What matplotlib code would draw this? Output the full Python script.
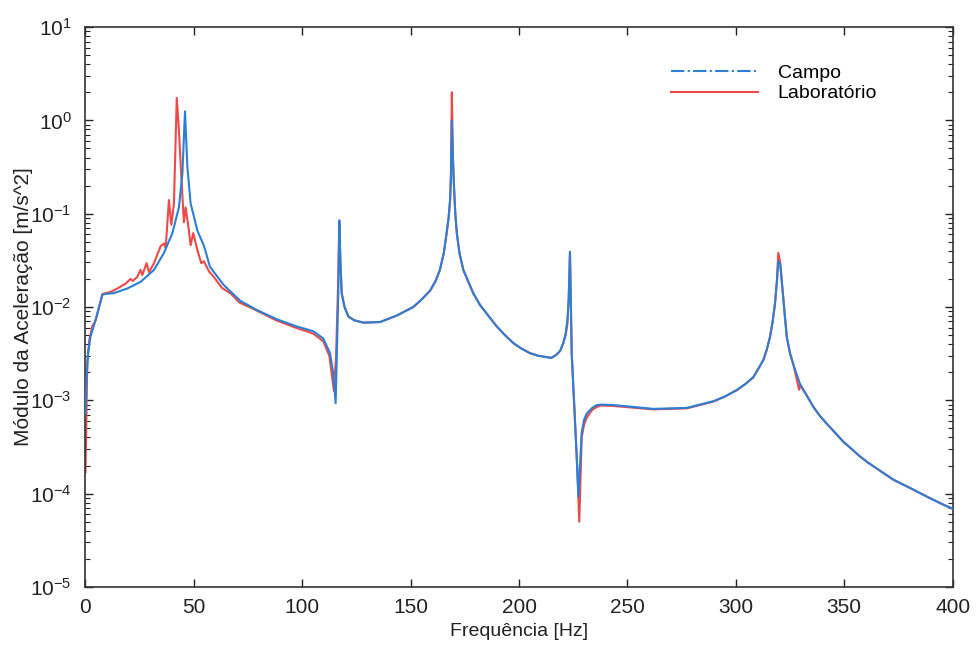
import numpy as np
import matplotlib
matplotlib.use("Agg")
import matplotlib.pyplot as plt
from matplotlib.ticker import LogLocator, FixedLocator, FuncFormatter, NullFormatter

plt.rcParams.update({
    "font.family": ["Liberation Sans", "DejaVu Sans"],
    "mathtext.fontset": "custom",
    "mathtext.rm": "Liberation Sans",
    "mathtext.it": "Liberation Sans",
    "font.size": 14,
})

# ── Campo (field measurement) ────────────────────────────────────────────────
campo_hz = [0.0, 0.5, 1.2, 2.3, 4.6, 7.8, 9.0, 13.1, 19.3, 25.4, 31.6, 36.2,
            40.1, 43.1, 44.7, 45.9, 47.0, 48.5, 51.6, 54.7, 57.4, 63.6, 71.3,
            79.0, 88.2, 97.4, 105.1, 109.7, 112.8, 114.3, 115.4, 116.6, 117.1,
            117.6, 118.2, 119.5, 121.3, 124.0, 128.2, 135.9, 143.6, 151.2,
            155.0, 159.0, 161.5, 163.5, 165.3, 166.6, 167.5, 168.2, 168.6,
            169.0, 169.5, 170.0, 170.6, 171.3, 172.5, 174.3, 176.5, 178.9,
            182.0, 185.1, 189.7, 193.5, 197.4, 201.0, 205.1, 209.0, 212.8,
            215.0, 217.4, 219.0, 220.4, 221.5, 222.3, 222.9, 223.5, 224.3,
            225.8, 226.6, 227.4, 228.9, 230.0, 231.2, 233.5, 235.8, 238.0,
            243.5, 262.0, 277.4, 289.7, 295.0, 300.4, 304.5, 308.1, 310.5,
            312.7, 314.3, 315.8, 317.0, 318.1, 319.0, 319.6, 320.5, 321.2,
            322.0, 323.5, 325.0, 326.6, 329.6, 332.5, 335.8, 338.8, 342.0,
            345.8, 349.6, 353.5, 357.3, 361.0, 365.0, 372.7, 380.4, 388.1,
            395.8, 400.0]
campo_val = [7.2e-4, 1.6e-3, 3.2e-3, 4.8e-3, 7.2e-3, 1.35e-2, 1.38e-2, 1.41e-2,
             1.58e-2, 1.86e-2, 2.5e-2, 3.8e-2, 6.2e-2, 1.17e-1, 2.7e-1, 1.25,
             3.2e-1, 1.29e-1, 6.6e-2, 4.5e-2, 2.7e-2, 1.74e-2, 1.17e-2, 9.3e-3,
             7.4e-3, 6.2e-3, 5.5e-3, 4.6e-3, 3.2e-3, 1.95e-3, 9.3e-4, 1.3e-2,
             8.5e-2, 3.0e-2, 1.4e-2, 1.0e-2, 7.9e-3, 7.2e-3, 6.8e-3, 6.9e-3,
             8.1e-3, 1.0e-2, 1.2e-2, 1.5e-2, 1.9e-2, 2.5e-2, 3.8e-2, 6.2e-2,
             9.0e-2, 1.4e-1, 2.5e-1, 1.0, 4.0e-1, 1.95e-1, 1.0e-1, 6.2e-2,
             3.8e-2, 2.5e-2, 1.9e-2, 1.4e-2, 1.05e-2, 8.5e-3, 6.2e-3, 5.0e-3,
             4.1e-3, 3.6e-3, 3.2e-3, 3.0e-3, 2.9e-3, 2.85e-3, 3.1e-3, 3.4e-3,
             4.1e-3, 5.2e-3, 7.2e-3, 1.2e-2, 3.9e-2, 3.2e-3, 6.2e-4, 2.5e-4,
             9.3e-5, 4.5e-4, 6.2e-4, 7.2e-4, 8.2e-4, 8.9e-4, 9.0e-4, 8.9e-4,
             8.1e-4, 8.3e-4, 9.8e-4, 1.1e-3, 1.29e-3, 1.5e-3, 1.78e-3, 2.2e-3,
             2.7e-3, 3.5e-3, 4.8e-3, 7.0e-3, 1.1e-2, 1.9e-2, 3.1e-2, 2.9e-2,
             1.9e-2, 1.17e-2, 4.8e-3, 3.2e-3, 2.4e-3, 1.5e-3, 1.15e-3, 8.5e-4,
             6.8e-4, 5.6e-4, 4.5e-4, 3.6e-4, 3.0e-4, 2.5e-4, 2.15e-4, 1.86e-4,
             1.41e-4, 1.15e-4, 9.3e-5, 7.6e-5, 6.9e-5]

# ── Laboratório (lab measurement) ────────────────────────────────────────────
lab_hz = [0.0, 0.4, 0.8, 1.8, 3.1, 4.7, 7.8, 11.6, 14.7, 18.5, 20.8, 21.8,
          23.9, 25.4, 26.2, 28.2, 29.3, 31.6, 34.7, 36.2, 37.0, 38.5, 39.6,
          40.8, 42.1, 43.1, 44.2, 45.4, 46.2, 47.7, 48.5, 49.7, 51.6, 53.4,
          54.6, 57.0, 59.2, 63.0, 66.9, 71.0, 78.4, 88.0, 97.0, 105.0, 109.7,
          112.5, 114.0, 114.6, 115.6, 116.6, 117.1, 117.6, 118.2, 119.5,
          121.3, 124.0, 128.2, 135.9, 143.6, 151.2, 155.0, 159.0, 161.5,
          163.5, 165.3, 166.6, 167.5, 168.2, 168.6, 169.0, 169.5, 170.0,
          170.6, 171.3, 172.5, 174.3, 176.5, 178.9, 182.0, 185.1, 189.7,
          193.5, 197.4, 201.0, 205.1, 209.0, 212.8, 215.0, 217.4, 219.0,
          220.4, 221.5, 222.3, 222.9, 223.5, 224.3, 225.8, 226.8, 227.8,
          228.9, 230.0, 231.2, 233.5, 235.8, 238.0, 243.5, 262.0, 277.4,
          289.7, 295.0, 300.4, 304.5, 308.1, 310.5, 312.7, 314.3, 315.8,
          317.0, 318.1, 319.0, 319.6, 320.5, 321.2, 322.0, 323.5, 325.0,
          326.6, 329.2, 329.8, 331.0, 332.5, 335.8, 338.8, 342.0, 345.8,
          349.6, 353.5, 357.3, 361.0, 365.0, 372.7, 380.4, 388.1, 395.8, 400.0]
lab_val = [1.7e-4, 6.0e-4, 2.5e-3, 4.5e-3, 6.2e-3, 7.2e-3, 1.38e-2, 1.45e-2,
           1.58e-2, 1.78e-2, 2.0e-2, 1.9e-2, 2.1e-2, 2.5e-2, 2.2e-2, 2.95e-2,
           2.35e-2, 2.95e-2, 4.5e-2, 4.8e-2, 4.3e-2, 1.4e-1, 7.6e-2, 1.29e-1,
           1.74, 7.9e-1, 2.5e-1, 8.1e-2, 1.17e-1, 6.6e-2, 4.6e-2, 6.2e-2,
           4.1e-2, 2.95e-2, 3.1e-2, 2.4e-2, 2.1e-2, 1.6e-2, 1.4e-2, 1.12e-2,
           9.3e-3, 7.2e-3, 6.0e-3, 5.2e-3, 4.3e-3, 3.0e-3, 1.6e-3, 1.26e-3,
           3.0e-3, 2.0e-2, 8.0e-2, 3.0e-2, 1.4e-2, 1.0e-2, 7.9e-3, 7.2e-3,
           6.8e-3, 6.9e-3, 8.1e-3, 1.0e-2, 1.2e-2, 1.5e-2, 1.9e-2, 2.5e-2,
           3.8e-2, 6.2e-2, 9.0e-2, 1.4e-1, 2.6e-1, 2.0, 4.0e-1, 1.95e-1,
           1.0e-1, 6.2e-2, 3.8e-2, 2.5e-2, 1.9e-2, 1.4e-2, 1.05e-2, 8.5e-3,
           6.2e-3, 5.0e-3, 4.1e-3, 3.6e-3, 3.2e-3, 3.0e-3, 2.9e-3, 2.85e-3,
           3.1e-3, 3.4e-3, 4.1e-3, 5.0e-3, 6.5e-3, 1.2e-2, 3.9e-2, 3.2e-3,
           6.0e-4, 2.0e-4, 5.0e-5, 4.0e-4, 5.5e-4, 6.5e-4, 7.8e-4, 8.5e-4,
           8.8e-4, 8.7e-4, 8.0e-4, 8.2e-4, 9.7e-4, 1.1e-3, 1.28e-3, 1.5e-3,
           1.76e-3, 2.2e-3, 2.7e-3, 3.5e-3, 4.8e-3, 7.0e-3, 1.1e-2, 2.0e-2,
           3.8e-2, 3.0e-2, 1.9e-2, 1.17e-2, 4.8e-3, 3.2e-3, 2.4e-3, 1.3e-3,
           1.45e-3, 1.3e-3, 1.15e-3, 8.5e-4, 6.8e-4, 5.6e-4, 4.5e-4, 3.6e-4,
           3.0e-4, 2.5e-4, 2.15e-4, 1.86e-4, 1.41e-4, 1.15e-4, 9.3e-5, 7.6e-5,
           6.9e-5]

x_ticks = [0, 50, 100, 150, 200, 250, 300, 350, 400]
y_ticks = [1e-5, 1e-4, 1e-3, 1e-2, 1e-1, 1e0, 1e1]

BLUE = "#2b7fd6"
RED = "#f04848"

fig, ax = plt.subplots(figsize=(9.77, 6.45), dpi=100)
fig.subplots_adjust(left=0.0875, right=0.975, bottom=0.09, top=0.958)

ax.semilogy(lab_hz, lab_val, color=RED, lw=1.5, zorder=2)
ax.semilogy(campo_hz, campo_val, color=BLUE, lw=1.5, zorder=3)

ax.set_xlim(0, 400)
ax.set_ylim(1e-5, 1e1)
ax.xaxis.set_major_locator(FixedLocator(x_ticks))
ax.yaxis.set_major_locator(FixedLocator(y_ticks))
ax.yaxis.set_minor_locator(LogLocator(base=10, subs=np.arange(2, 10), numticks=20))
ax.yaxis.set_minor_formatter(NullFormatter())
ax.yaxis.set_major_formatter(
    FuncFormatter(lambda v, p: r"$\mathregular{10^{%d}}$" % round(np.log10(v))))

ax.tick_params(which="both", direction="in", top=True, right=True,
               labelsize=15, colors="#222222")
ax.tick_params(axis="x", pad=8)
ax.tick_params(axis="y", pad=10)
ax.tick_params(which="major", length=6, width=1)
ax.tick_params(which="minor", length=3.5, width=0.8)
for sp in ax.spines.values():
    sp.set_color("#333333")
    sp.set_linewidth(1.2)

ax.set_xlabel("Frequência [Hz]", fontsize=14, labelpad=4, color="#222222")
ax.set_ylabel("Módulo da Aceleração [m/s^2]", fontsize=15, labelpad=-2,
              color="#222222")

h1 = plt.Line2D([0], [0], color=BLUE, lw=1.5, linestyle="-.")
h2 = plt.Line2D([0], [0], color=RED, lw=1.5)
ax.legend([h1, h2], ["Campo", "Laboratório"], loc="upper left",
          bbox_to_anchor=(0.655, 0.965), frameon=False, handlelength=4.5,
          fontsize=14, labelspacing=0.15, handletextpad=1.0)

fig.savefig("out.png", dpi=100, facecolor="white")
